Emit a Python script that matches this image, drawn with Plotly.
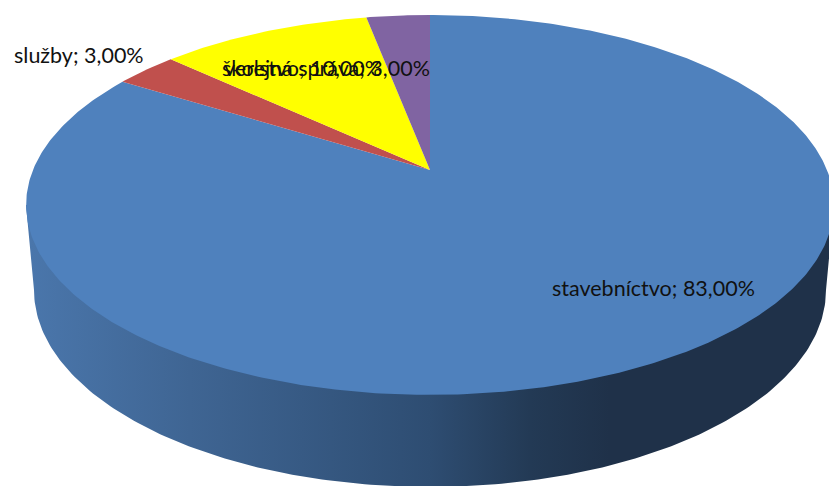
import numpy as np
import plotly.graph_objects as go

categories = ["stavebníctvo", "služby", "školstvo", "verejná správa"]
values = [83, 3, 10, 3]

slice_colors = ["#4f81bd", "#c0504d", "#ffff00", "#8064a2"]
label_xy = [(550, 288), (12, 55), (220, 68), (222, 68)]

W, H = 829, 486
CX, CY = 430, 170      # apex of the pie on screen
RX, RY, K = 397, 183.5, 0.184   # perspective of the top face

def project(theta):
    u, v = np.sin(theta), np.cos(theta)
    d = 1 + K * v
    return CX + RX * u / d, CY - RY * v / d

fig = go.Figure()

# side wall: silhouette between the top rim and the lower rim
SIDE_CY, SIDE_RX, SIDE_RY = 290, 396, 197
t = np.linspace(0, np.pi, 200)
xb = CX + SIDE_RX * np.cos(t)
yb = SIDE_CY + SIDE_RY * np.sin(t)
xl, xr = CX - 404, CX + 404
side_x = np.concatenate([[xl], [xr], xb])
side_y = np.concatenate([[205], [205], yb])
fig.add_trace(go.Scatter(
    x=side_x, y=side_y, mode="lines", line=dict(width=0), fill="toself",
    fillgradient=dict(type="horizontal", start=30, stop=830, colorscale=[
        [0, "#4a76ab"], [0.2, "#3f6593"], [0.34, "#375a84"], [0.5, "#2e4d72"],
        [0.625, "#233a55"], [0.725, "#1f3149"], [1, "#1f3149"]]),
    hoverinfo="skip", showlegend=False))

# top face slices, clockwise from twelve o'clock
total = sum(values)
start = 0.0
for cat, val, col in zip(categories, values, slice_colors):
    sweep = 2 * np.pi * val / total
    th = np.linspace(start, start + sweep, max(int(val * 6), 12))
    px, py = project(th)
    fig.add_trace(go.Scatter(
        x=np.concatenate([[CX], px, [CX]]), y=np.concatenate([[CY], py, [CY]]),
        mode="lines", line=dict(width=0), fill="toself", fillcolor=col,
        name=cat, hoverinfo="name", showlegend=False))
    start += sweep

for cat, val, (lx, ly) in zip(categories, values, label_xy):
    text = f"{cat}; {val:.2f}%".replace(".", ",")
    fig.add_annotation(x=lx, y=ly, text=text, showarrow=False, xanchor="left",
                       yanchor="middle", font=dict(family="Lato", size=21.5, color="#111111"))

fig.update_layout(
    width=W, height=H, margin=dict(l=0, r=0, t=0, b=0),
    paper_bgcolor="white", plot_bgcolor="white",
    xaxis=dict(range=[0, W], visible=False, fixedrange=True),
    yaxis=dict(range=[H, 0], visible=False, fixedrange=True),
)
fig.write_html("out.html", config={"displayModeBar": False},
               post_script="document.body.style.margin='0';document.body.style.overflow='hidden';")
